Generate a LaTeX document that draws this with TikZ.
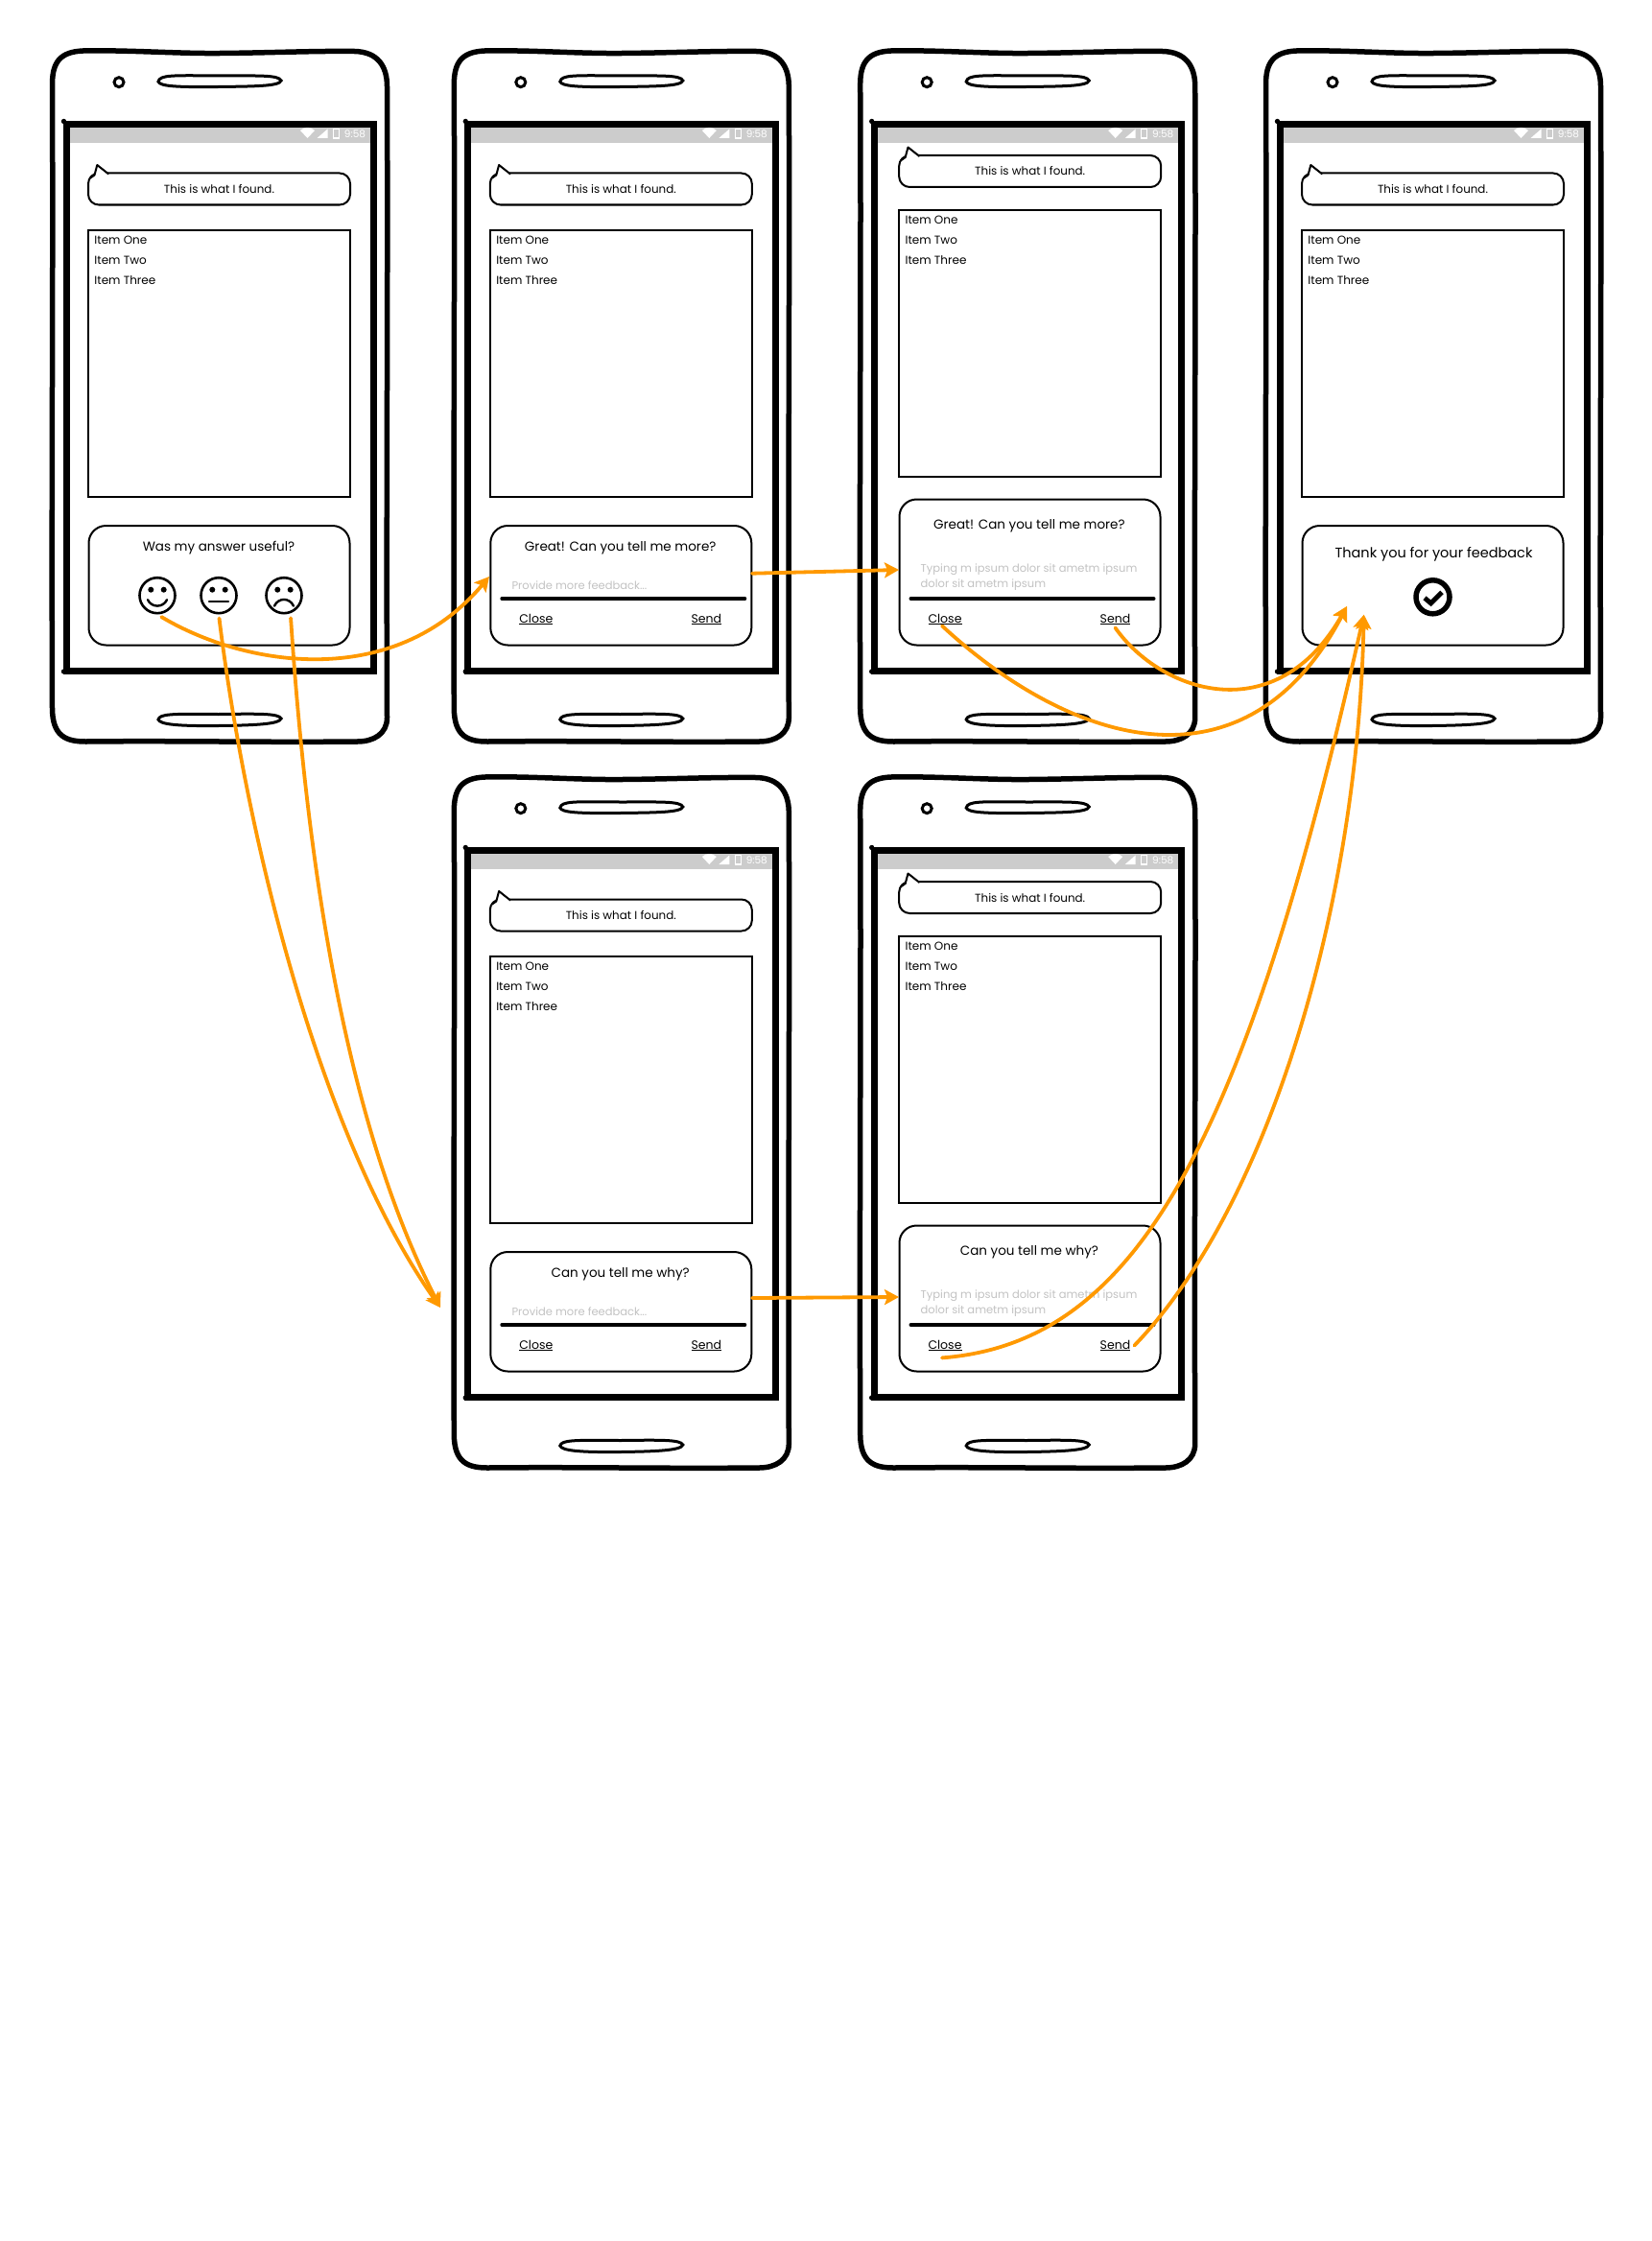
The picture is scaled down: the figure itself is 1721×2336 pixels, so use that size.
\documentclass[tikz,border=0pt]{standalone}
\usepackage{fontspec}
\setmainfont{Poppins}
\usetikzlibrary{arrows.meta,positioning}
\definecolor{flowcol}{HTML}{FF9900}
\definecolor{barcol}{HTML}{CCCCCC}
\definecolor{hintcol}{HTML}{C2C2C2}

\tikzset{
  body/.style={line width=5.5pt},
  screen/.style={line width=7pt, line join=miter},
  slot/.style={line width=3pt},
  panel/.style={draw, line width=2pt, rounded corners=18pt, minimum width=272pt, anchor=south},
  found/.style={draw, line width=2pt, rounded corners=11pt, minimum width=273pt, minimum height=33pt, font=\fontsize{11.9}{14}\selectfont},
  listbox/.style={draw, line width=2pt, minimum width=272.5pt, minimum height=278pt, anchor=north},
  items/.style={anchor=north west, align=left, inner sep=0pt, font=\fontsize{12}{21}\selectfont},
  ask/.style={inner sep=0pt, font=\fontsize{13.5}{16}\selectfont},
  hint/.style={anchor=west, align=left, inner sep=0pt, text=hintcol, font=\fontsize{11.5}{16}\selectfont},
  act/.style={inner sep=1pt, font=\fontsize{12.5}{14}\selectfont},
  face/.style={draw, circle, line width=2.6pt, minimum size=37pt, inner sep=0pt},
  mouth/.style={line width=2.4pt, line cap=round},
  rule/.style={line width=4pt, line cap=round},
  flow/.style={->, draw=flowcol, line width=3.8pt, line cap=round},
}

\newcommand\askpanel[8]{%
  \begin{scope}[shift={(#2,#3)}]
    \node[panel, minimum height={673.5-#4}] (#1-panel) at (174,673.5) {};
    \node[ask] (#1-title) at (173.4,#5) {#6};
    \node[hint] (#1-hint) at (60,#7) {#8};
    \draw[rule] (50,624) -- (303,624);
    \node[act] (#1-close) at (85.5,645.5) {\underline{Close}};
    \node[act] (#1-send) at (263,645.5) {\underline{Send}};
  \end{scope}}

\begin{document}
\begin{tikzpicture}[x=1pt, y=-1pt, >={Stealth[length=15pt,width=16pt,inset=3pt]}]
  \useasboundingbox (0,0) rectangle (1721,2336);

  \foreach \n/\x/\y/\c/\b/\l in {p1/54.5/0/174/197/238.5, p2/473.3/0/174/197/238.5, p3/896.7/0/177/178.5/217.5,
                                 p4/1319.5/0/174/197/238.5, p5/473.3/757/174/197/238.5, p6/896.7/757/177/178.5/217.5}{
    \begin{scope}[shift={(\x,\y)}]
      \draw[body] (0,88) .. controls (0,65) and (8,54) .. (32,53) .. controls (80,52) and (130,56) .. (175,55.5)
        .. controls (230,55) and (270,53) .. (315,53.5) .. controls (340,54) and (349,70) .. (349,90)
        .. controls (350,300) and (348,500) .. (349,748) .. controls (349,765) and (335,773) .. (318,773)
        .. controls (220,774) and (130,772) .. (35,773) .. controls (15,773) and (0,768) .. (0,738)
        .. controls (-1,500) and (1,300) .. (0,88) -- cycle;
      \draw[slot] (69.5,85.7) circle (5);
      \draw[slot] (110.5,85) .. controls (112,78) and (125,78.5) .. (173,79) .. controls (215,79) and (236,78) .. (238.5,84)
        .. controls (237,90) and (210,90) .. (173,90.5) .. controls (130,91) and (112,90) .. (110.5,85) -- cycle;
      \draw[slot] (110.5,750) .. controls (112,744) and (125,744) .. (173,744.5) .. controls (215,744) and (236,743.5) .. (238.5,749)
        .. controls (237,755) and (210,756) .. (173,756.5) .. controls (130,757) and (112,755) .. (110.5,750) -- cycle;
      \fill[barcol] (18,133) rectangle (331.5,149);
      \fill[white] (258.5,136) .. controls (263,132) and (269,132) .. (273.5,136) -- (266,144) -- cycle;
      \fill[white] (276,144) -- (287,144) -- (287,134.5) -- cycle;
      \draw[white, line width=1.2pt] (293,134.5) rectangle (299,144);
      \node[white, inner sep=0pt, font=\fontsize{10.5}{11}\selectfont] (\n-clock) at (315.5,139.5) {9:58};
      \draw[screen] (14.5,129.5) rectangle (335,699);
      \fill (12,126.5) circle (2.7);
      \fill (12,700) circle (2.7);
      \node[found] (\n-found) at (\c,\b) {This is what I found.};
      \begin{scope}[xshift={(\c-174)*1pt}]
        \fill[white] (39,\b-11) -- (44,\b-14.5) -- (46.8,\b-25) -- (58.8,\b-15.5) -- (58.8,\b-13) -- (42,\b-8.5) -- cycle;
        \draw[line width=2pt, line join=round] (39,\b-11) -- (44,\b-14.5) -- (46.8,\b-25) -- (58.8,\b-15.5);
      \end{scope}
      \node[listbox] (\n-list) at (\c,\l) {};
      \node[items] (\n-items) at ([xshift=7pt,yshift=-7pt]\n-list.north west) {Item One\\Item Two\\Item Three};
    \end{scope}
  }

  \begin{scope}[shift={(54.5,0)}]
    \node[panel, minimum height=124.5pt] (p1-panel) at (174,673.5) {};
    \node[ask] (p1-title) at (173.5,571.5) {Was my answer useful?};
    \node[face] (p1-smile) at (109.5,620.7) {};
    \node[face, right=24.4pt of p1-smile] (p1-neutral) {};
    \node[face, right=28.4pt of p1-neutral] (p1-sad) {};
    \foreach \f in {smile,neutral,sad}{
      \fill ([shift={(-6.7pt,6pt)}]p1-\f.center) circle (3);
      \fill ([shift={(6.7pt,6pt)}]p1-\f.center) circle (3);
    }
    \draw[mouth] ([shift={(-10pt,-4.5pt)}]p1-smile.center) .. controls ([shift={(-6pt,-13pt)}]p1-smile.center) and ([shift={(6pt,-13pt)}]p1-smile.center) .. ([shift={(10pt,-4.5pt)}]p1-smile.center);
    \draw[mouth] ([shift={(-10pt,-6pt)}]p1-neutral.center) -- ([shift={(10pt,-6pt)}]p1-neutral.center);
    \draw[mouth] ([shift={(-10pt,-11pt)}]p1-sad.center) .. controls ([shift={(-6pt,-2pt)}]p1-sad.center) and ([shift={(6pt,-2pt)}]p1-sad.center) .. ([shift={(10pt,-11pt)}]p1-sad.center);
  \end{scope}

  \askpanel{p2}{473.3}{0}{549}{571.5}{Great! Can you tell me more?}{610.5}{Provide more feedback...}
  \askpanel{p3}{899.5}{0}{521.5}{548}{Great! Can you tell me more?}{601.5}{Typing m ipsum dolor sit ametm ipsum\\dolor sit ametm ipsum}
  \askpanel{p5}{473.3}{757}{549}{571.5}{Can you tell me why?}{610.5}{Provide more feedback...}
  \askpanel{p6}{899.5}{757}{521.5}{548}{Can you tell me why?}{601.5}{Typing m ipsum dolor sit ametm ipsum\\dolor sit ametm ipsum}

  \begin{scope}[shift={(1319.5,0)}]
    \node[panel, minimum height=124.5pt] (p4-panel) at (174,673.5) {};
    \node[ask, font=\fontsize{14.5}{17}\selectfont] (p4-title) at (175,577.7) {Thank you for your feedback};
    \node[face, line width=5.5pt, minimum size=35pt] (p4-check) at (174,622.3) {};
    \draw[line width=5pt, line join=miter] ([shift={(-8.5pt,-1pt)}]p4-check.center) -- ([shift={(-2pt,-6.5pt)}]p4-check.center) -- ([shift={(9.5pt,5pt)}]p4-check.center);
  \end{scope}

  \coordinate (p2-in) at (510,601);
  \coordinate (p2-out) at (784,597.7);
  \coordinate (p3-in) at (937,594);
  \coordinate (p5-in) at (459,1363);
  \coordinate (p5-out) at (784,1353);
  \coordinate (p6-in) at (937,1352);
  \coordinate (p4-left) at (1404,632);
  \coordinate (p4-right) at (1421.7,640.7);

  \draw[flow, shorten <=5pt] (p1-smile.south) .. controls (255,695) and (410,720) .. (p2-in);
  \draw[flow, shorten <=4pt] (p1-neutral.south) .. controls (255,860) and (330,1180) .. (p5-in);
  \draw[flow, shorten <=5pt] (p1-sad.-70) .. controls (320,900) and (360,1170) .. (p5-in);
  \draw[flow] (p2-out) -- (p3-in);
  \draw[flow] (p5-out) -- (p6-in);
  \draw[flow] ([xshift=-3pt]p3-close.south) .. controls (1120,780) and (1300,830) .. (p4-left);
  \draw[flow] ([yshift=-2pt]p3-send.south) .. controls (1210,722) and (1330,762) .. (p4-left);
  \draw[flow] ([xshift=-3pt,yshift=-6pt]p6-close.south) .. controls (1180,1400) and (1295,1205) .. (p4-right);
  \draw[flow] ([xshift=3pt]p6-send.east) .. controls (1320,1260) and (1415,950) .. (p4-right);
\end{tikzpicture}
\end{document}
